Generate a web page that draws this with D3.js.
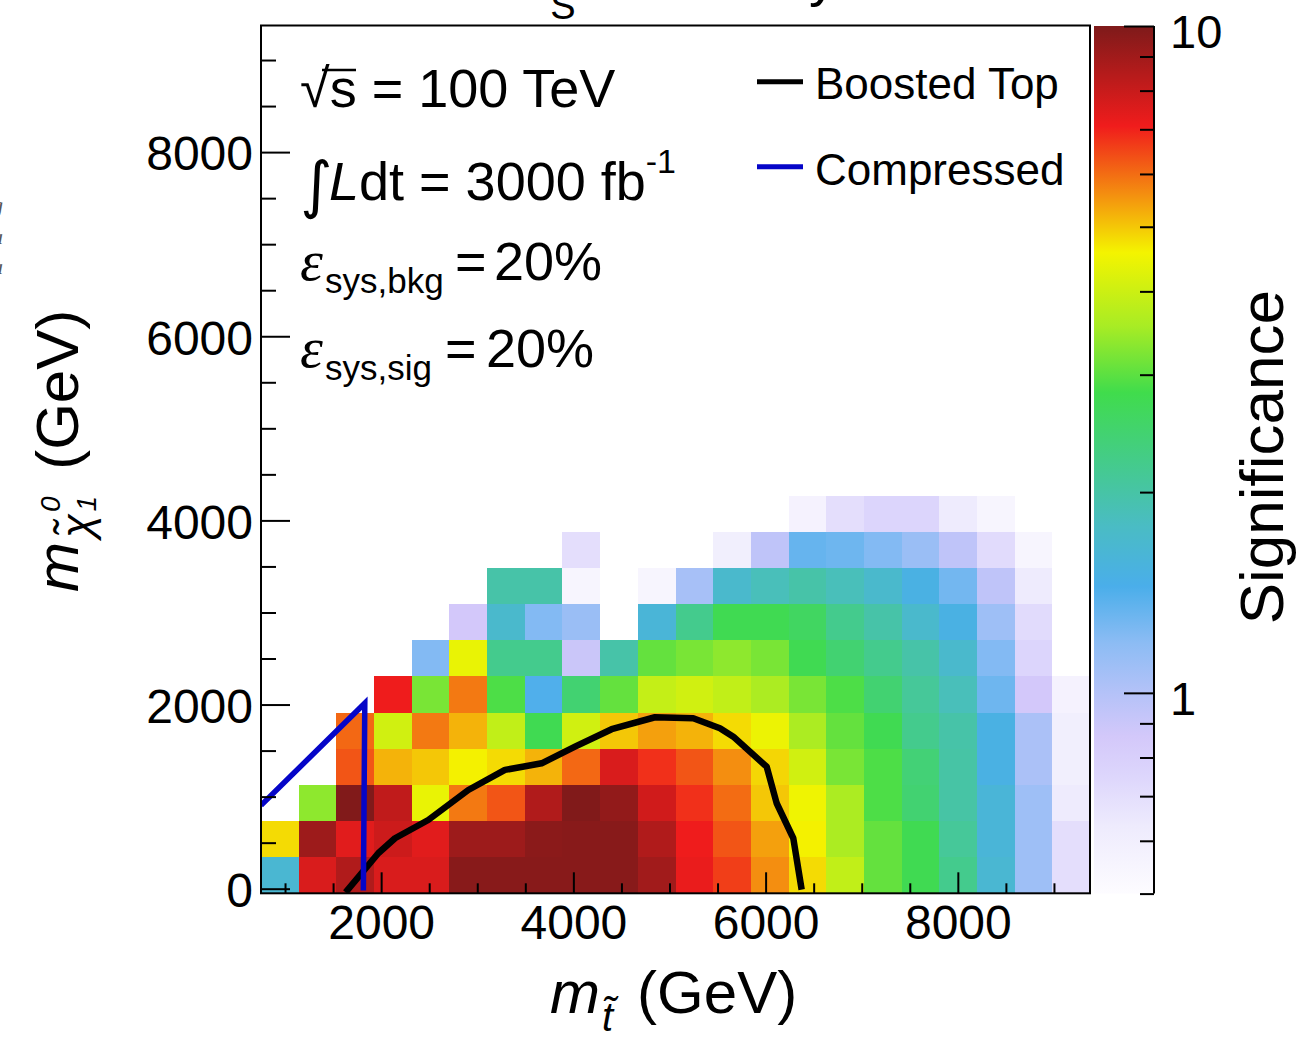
<!DOCTYPE html>
<html>
<head>
<meta charset="utf-8">
<script src="https://cdn.jsdelivr.net/npm/d3@7"></script>
<style>
  body { margin: 0; background: #fff; }
  svg { display: block; }
</style>
</head>
<body>
<svg id="chart" width="1302" height="1039"></svg>
<script>
// --- DATA ---
// histogram binning (GeV)
const xRange = [750, 9375], xBinCount = 22;
const yRange = [-50, 9375], yBinCount = 24;
const zRange = [0.5, 10];

// significance per bin; row 0 is the lowest neutralino-mass bin, null = below minimum (not drawn)
const sigRows = [
  [1.65, 7.6, 8.6, 7.6, 7.6, 9.7, 9.7, 9.7, 9.7, 9.7, 9.0, 7.2, 6.6, 5.6, 4.8, 3.85, 3.05, 2.75, 2.2, 1.65, 1.1, 0.7],
  [4.8, 9.1, 7.4, 7.9, 7.4, 9.1, 9.1, 9.6, 9.7, 9.7, 8.6, 7.1, 6.3, 5.4, 4.6, 3.6, 3.05, 2.75, 2.1, 1.6, 1.1, 0.7],
  [null, 3.35, 9.9, 8.2, 4.4, 5.85, 6.3, 8.6, 9.9, 9.4, 7.8, 6.8, 6.0, 5.0, 4.5, 3.6, 2.9, 2.45, 2.0, 1.6, 1.1, 0.63],
  [null, null, 6.3, 5.2, 5.0, 4.6, 4.8, 5.2, 6.05, 7.6, 6.8, 6.3, 5.6, 4.85, 4.05, 3.2, 2.9, 2.4, 2.0, 1.5, 1.04, 0.6],
  [null, null, 6.05, 4.05, 5.85, 5.2, 3.85, 2.75, 4.05, 5.0, 5.4, 5.2, 4.8, 4.45, 3.6, 3.05, 2.75, 2.2, 1.98, 1.5, 1.04, 0.6],
  [null, null, null, 7.1, 3.2, 5.85, 2.9, 1.42, 2.45, 3.05, 3.9, 4.05, 3.85, 3.6, 3.2, 2.9, 2.45, 2.1, 1.85, 1.3, 0.86, 0.57],
  [null, null, null, null, 1.22, 4.4, 2.2, 2.2, 0.9, 1.98, 3.05, 3.2, 3.35, 3.2, 2.75, 2.45, 2.2, 1.98, 1.7, 1.22, 0.76, null],
  [null, null, null, null, null, 0.86, 1.7, 1.22, 1.12, null, 1.6, 2.2, 2.75, 2.75, 2.6, 2.2, 1.98, 1.7, 1.5, 1.1, 0.72, null],
  [null, null, null, null, null, null, 1.98, 1.98, 0.55, null, 0.55, 1.06, 1.7, 1.85, 1.98, 1.85, 1.7, 1.5, 1.28, 0.95, 0.63, null],
  [null, null, null, null, null, null, null, null, 0.7, null, null, null, 0.6, 0.95, 1.33, 1.3, 1.22, 1.12, 0.95, 0.72, 0.55, null],
  [null, null, null, null, null, null, null, null, null, null, null, null, null, null, 0.57, 0.7, 0.76, 0.76, 0.63, 0.55, null, null]
];

// 5 sigma contours [m_stop, m_chi]
const boostedTop = [[1630, -40], [1970, 385], [2144, 548], [2490, 746], [2907, 1072], [3288, 1290],
  [3670, 1362], [4017, 1543], [4398, 1732], [4849, 1862], [5247, 1851], [5525, 1743], [5664, 1651],
  [6011, 1325], [6115, 928], [6288, 548], [6375, -10]];
const compressed = [[750, 905], [1830, 2015], [1815, -20]];

const xMajor = [2000, 4000, 6000, 8000];
const yMajor = [0, 2000, 4000, 6000, 8000];
const zMajor = [1, 10];
const zMinor = [0.5, 0.6, 0.7, 0.8, 0.9, 2, 3, 4, 5, 6, 7, 8, 9];

// palette stops in log10(significance)
const palLog = [-0.301, -0.2, -0.125, -0.065, 0.0, 0.075, 0.16, 0.25, 0.35, 0.45, 0.55, 0.66, 0.75, 0.85, 1.0];
const palCol = ["#fdfcff", "#eeebfd", "#ddd6fc", "#d3c8fa", "#b4c2f8", "#8cbcf4", "#4aaeea", "#4abcc4",
  "#44cc88", "#40dc4c", "#a8ec24", "#f4f400", "#f48c10", "#f01c1c", "#7e1a1a"];

// --- SETUP ---
const FONT = '"Liberation Sans", Arial, Helvetica, sans-serif';
const svg = d3.select("#chart").attr("font-family", FONT);
const frame = {left: 261, right: 1090, top: 25.5, bottom: 893.3};
const bar = {left: 1094, right: 1154};

const x = d3.scaleLinear().domain(xRange).range([frame.left, frame.right]);
const y = d3.scaleLinear().domain(yRange).range([frame.bottom, frame.top]);
const z = d3.scaleLog().domain(zRange).range([893.6, 26]);
const color = d3.scaleLinear().domain(palLog).range(palCol).clamp(true);

const xBinW = (xRange[1] - xRange[0]) / xBinCount;
const yBinW = (yRange[1] - yRange[0]) / yBinCount;

// --- CELLS ---
const cells = [];
sigRows.forEach((row, j) => row.forEach((v, i) => { if (v != null) cells.push({i, j, v}); }));

svg.append("g").selectAll("rect").data(cells).join("rect")
  .attr("x", d => x(xRange[0] + d.i * xBinW))
  .attr("y", d => y(yRange[0] + (d.j + 1) * yBinW))
  .attr("width", d => x(xRange[0] + (d.i + 1) * xBinW) - x(xRange[0] + d.i * xBinW))
  .attr("height", d => y(yRange[0] + d.j * yBinW) - y(yRange[0] + (d.j + 1) * yBinW))
  .attr("fill", d => color(Math.log10(d.v)))
  .attr("shape-rendering", "crispEdges");

// --- CONTOURS ---
svg.append("clipPath").attr("id", "plotclip").append("rect")
  .attr("x", frame.left).attr("y", frame.top)
  .attr("width", frame.right - frame.left).attr("height", frame.bottom - frame.top);

const line = d3.line().x(d => x(d[0])).y(d => y(d[1]));
svg.append("path").datum(boostedTop).attr("d", line)
  .attr("clip-path", "url(#plotclip)")
  .attr("fill", "none").attr("stroke", "#000").attr("stroke-width", 6.5).attr("stroke-linejoin", "round");
svg.append("path").datum(compressed).attr("d", line)
  .attr("clip-path", "url(#plotclip)")
  .attr("fill", "none").attr("stroke", "#0505c8").attr("stroke-width", 5.5);

// --- AXES ---
function styleAxis(g, size) {
  g.attr("font-family", FONT).attr("font-size", size);
  g.selectAll("line").attr("stroke", "#000").attr("stroke-width", 2);
  g.selectAll("text").attr("fill", "#000");
  g.select(".domain").remove();
}

const yMinor = d3.range(0, 9001, 500).filter(v => v % 2000 !== 0);
svg.append("g").attr("transform", `translate(${frame.left},0)`)
  .call(d3.axisLeft(y).tickValues(yMinor).tickSizeInner(-15).tickSizeOuter(0).tickFormat(""))
  .call(g => styleAxis(g, 48));
svg.append("g").attr("transform", `translate(${frame.left},0)`)
  .call(d3.axisLeft(y).tickValues(yMajor).tickSizeInner(-29).tickSizeOuter(0).tickPadding(8).tickFormat(d3.format("d")))
  .call(g => styleAxis(g, 48))
  .call(g => g.selectAll("text").attr("dy", "0.37em"));

const xMinor = d3.range(1000, 9001, 500).filter(v => v % 2000 !== 0);
svg.append("g").attr("transform", `translate(0,${frame.bottom})`)
  .call(d3.axisBottom(x).tickValues(xMinor).tickSizeInner(-10).tickSizeOuter(0).tickFormat(""))
  .call(g => styleAxis(g, 48));
svg.append("g").attr("transform", `translate(0,${frame.bottom})`)
  .call(d3.axisBottom(x).tickValues(xMajor).tickSizeInner(-21).tickSizeOuter(0).tickPadding(12).tickFormat(d3.format("d")))
  .call(g => styleAxis(g, 48));

// frame
svg.append("rect")
  .attr("x", frame.left).attr("y", frame.top)
  .attr("width", frame.right - frame.left).attr("height", frame.bottom - frame.top)
  .attr("fill", "none").attr("stroke", "#000").attr("stroke-width", 2);

// --- COLOR BAR ---
const grad = svg.append("defs").append("linearGradient").attr("id", "palgrad")
  .attr("x1", 0).attr("y1", 1).attr("x2", 0).attr("y2", 0);
const lz0 = Math.log10(zRange[0]), lz1 = Math.log10(zRange[1]);
grad.selectAll("stop").data(palLog).join("stop")
  .attr("offset", d => (d - lz0) / (lz1 - lz0))
  .attr("stop-color", (d, i) => palCol[i]);

svg.append("rect")
  .attr("x", bar.left).attr("y", z(zRange[1]))
  .attr("width", bar.right - bar.left).attr("height", z(zRange[0]) - z(zRange[1]))
  .attr("fill", "url(#palgrad)");

svg.append("g").attr("transform", `translate(${bar.right},0)`)
  .call(d3.axisRight(z).tickValues(zMinor).tickSizeInner(-14).tickSizeOuter(0).tickFormat(""))
  .call(g => styleAxis(g, 47));
svg.append("g").attr("transform", `translate(${bar.right},0)`)
  .call(d3.axisRight(z).tickValues(zMajor).tickSizeInner(-30).tickSizeOuter(0).tickPadding(16).tickFormat(d3.format("d")))
  .call(g => styleAxis(g, 47))
  .call(g => g.selectAll("text").attr("dy", "0.45em"));
svg.append("line")
  .attr("x1", bar.right).attr("x2", bar.right)
  .attr("y1", z(zRange[1])).attr("y2", z(zRange[0]))
  .attr("stroke", "#000").attr("stroke-width", 2);

// --- TITLES ---
svg.append("text")
  .attr("transform", "translate(1283,290) rotate(-90)")
  .attr("text-anchor", "end").attr("font-size", 62)
  .text("Significance");

const xt = svg.append("text").attr("x", 550).attr("y", 1013).attr("font-size", 60);
xt.append("tspan").attr("font-style", "italic").text("m");
xt.append("tspan").attr("font-size", 40).attr("font-style", "italic").attr("dx", 2).attr("dy", 18).text("t\u0303");
xt.append("tspan").attr("dx", 24).attr("dy", -18).text("(GeV)");

const yt = svg.append("text").attr("transform", "translate(78,592) rotate(-90)").attr("font-size", 60);
yt.append("tspan").attr("font-style", "italic").text("m");
yt.append("tspan").attr("font-size", 44).attr("font-style", "italic").attr("dx", 4).attr("dy", 14).text("\u03C7\u0303");
yt.append("tspan").attr("font-size", 28).attr("font-style", "italic").attr("dx", 2).attr("dy", -32).text("0");
yt.append("tspan").attr("font-size", 28).attr("font-style", "italic").attr("dx", -15).attr("dy", 36).text("1");
yt.append("tspan").attr("dx", 26).attr("dy", -18).text("(GeV)");

// partly visible title at the very top
const tt = svg.append("text").attr("x", 516).attr("y", -5).attr("font-size", 56);
tt.append("tspan").text("Z");
tt.append("tspan").attr("font-size", 38).attr("dy", 24).text("S");
tt.append("tspan").attr("dy", -24).text(" Discovery");

// stray glyphs of a neighbouring caption at the left edge
svg.append("g").attr("font-family", '"Liberation Serif", serif').attr("font-style", "italic")
  .attr("font-size", 22).attr("fill", "#555")
  .selectAll("text").data([["g", 212], ["a", 244], ["a", 274]]).join("text")
  .attr("x", -8).attr("y", d => d[1]).text(d => d[0]);

// --- ANNOTATIONS ---
const ann = svg.append("g").attr("font-size", 54);
const l1 = ann.append("text").attr("x", 300).attr("y", 107);
l1.append("tspan").text("\u221A");
l1.append("tspan").text("s = 100 TeV");
ann.append("line").attr("x1", 322).attr("x2", 356).attr("y1", 70).attr("y2", 70)
  .attr("stroke", "#000").attr("stroke-width", 2.5);

const l2 = ann.append("text").attr("x", 300).attr("y", 200);
l2.append("tspan").attr("font-size", 62).attr("font-family", '"DejaVu Sans", sans-serif').attr("dy", 6).text("\u222B");
l2.append("tspan").attr("x", 329).attr("dy", -6).attr("font-style", "italic").text("L");
l2.append("tspan").text("dt = 3000 fb");
l2.append("tspan").attr("font-size", 34).attr("dy", -27).text("-1");

function epsLine(yBase, sub, eqX, valX) {
  const t = ann.append("text").attr("x", 300).attr("y", yBase);
  t.append("tspan").attr("font-family", '"Liberation Serif", serif').attr("font-style", "italic")
    .attr("font-size", 58).text("\u03B5");
  t.append("tspan").attr("x", 325).attr("font-size", 35).attr("dy", 13).text(sub);
  t.append("tspan").attr("x", eqX).attr("dy", -13).text("=");
  t.append("tspan").attr("x", valX).text("20%");
}
epsLine(280, "sys,bkg", 455, 494);
epsLine(367, "sys,sig", 445, 486);

// --- LEGEND ---
const legend = [
  {label: "Boosted Top", color: "#000", y: 81.7, ty: 99},
  {label: "Compressed", color: "#0505c8", y: 166.7, ty: 185}
];
const lg = svg.append("g");
lg.selectAll("line").data(legend).join("line")
  .attr("x1", 757).attr("x2", 803).attr("y1", d => d.y).attr("y2", d => d.y)
  .attr("stroke", d => d.color).attr("stroke-width", 5);
lg.selectAll("text").data(legend).join("text")
  .attr("x", 815).attr("y", d => d.ty).attr("font-size", 44).text(d => d.label);
</script>
</body>
</html>
